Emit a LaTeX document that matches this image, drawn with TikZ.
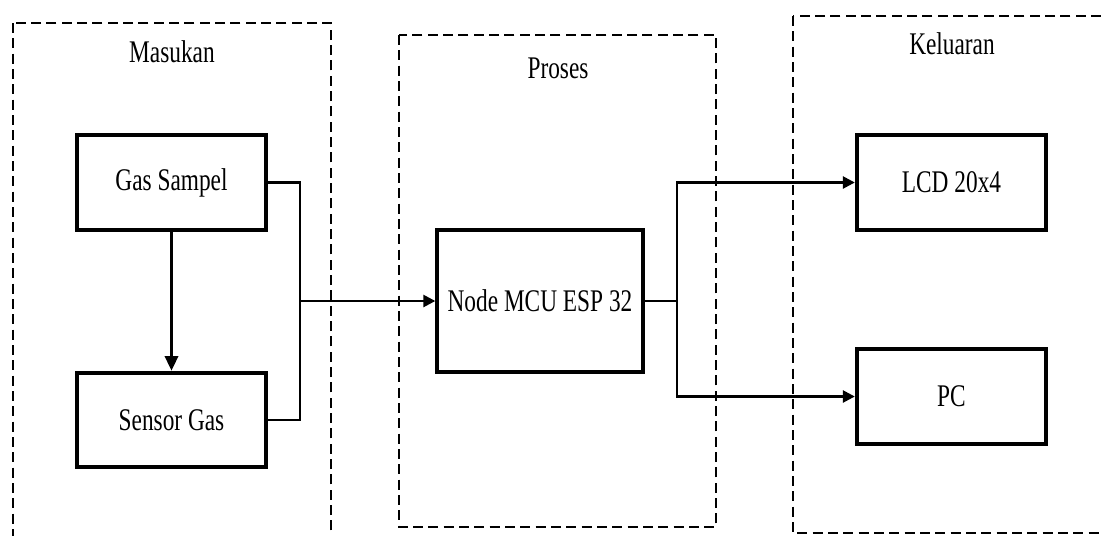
\documentclass[tikz,border=0pt]{standalone}
\usepackage{fontspec}
\setmainfont{Liberation Serif}
\usetikzlibrary{positioning, arrows.meta}

% taller, narrower text as in the drawing
\newcommand{\tall}[1]{\scalebox{1}[1.35]{#1}}

\begin{document}
\begin{tikzpicture}[
    x=0.75pt, y=-0.75pt,
    >={Triangle[length=9pt,width=9pt]},
    font=\fontsize{17.5}{20}\selectfont,
    group/.style={
        draw,
        line width=1.4pt,
        dash pattern=on 7.5pt off 4pt
    },
    block/.style={
        rectangle,
        draw,
        line width=3pt,
        minimum width=142pt,
        minimum height=71pt,
        align=center
    },
    title/.style={
        inner sep=0pt
    },
    line/.style={
        line width=1.9pt
    },
    arrow/.style={
        line,
        ->
    }
]
    \clip (0,0) rectangle (1101,536);

    % Groups
    \draw[group] (13,23) rectangle (331,570);
    \draw[group] (399,35) rectangle (716,527);
    \draw[group] (793,16) rectangle (1120,533);
    \node[title] (tin) at (172,52) {\tall{Masukan}};
    \node[title] (tproc) at (558,68) {\tall{Proses}};
    \node[title] (tout) at (952,44) {\tall{Keluaran}};

    % Masukan
    \node[block] (gas) at (171.5,182.5) {\tall{Gas Sampel}};
    \node[block] (sensor) at (171.5,420) {\tall{Sensor Gas}};
    \draw[line, -{Triangle[length=11pt,width=10pt]}] (gas) -- (sensor);

    % Proses
    \node[block, minimum width=154pt, minimum height=106pt] (mcu) at (540,301) {\tall{Node MCU ESP 32}};
    \coordinate (jin) at (300,301);
    \draw[line] (gas.east) -| (jin);
    \draw[line] (sensor.east) -| (jin);
    \draw[arrow] (jin) -- (mcu.west);

    % Keluaran
    \node[block] (lcd) at (951.5,182.5) {\tall{LCD 20x4}};
    \node[block] (pc) at (951.5,396.5) {\tall{PC}};
    \coordinate (jout) at (677,301);
    \draw[line] (mcu.east) -- (jout);
    \draw[arrow] (jout) |- (lcd.west);
    \draw[arrow] (jout) |- (pc.west);

\end{tikzpicture}
\end{document}
